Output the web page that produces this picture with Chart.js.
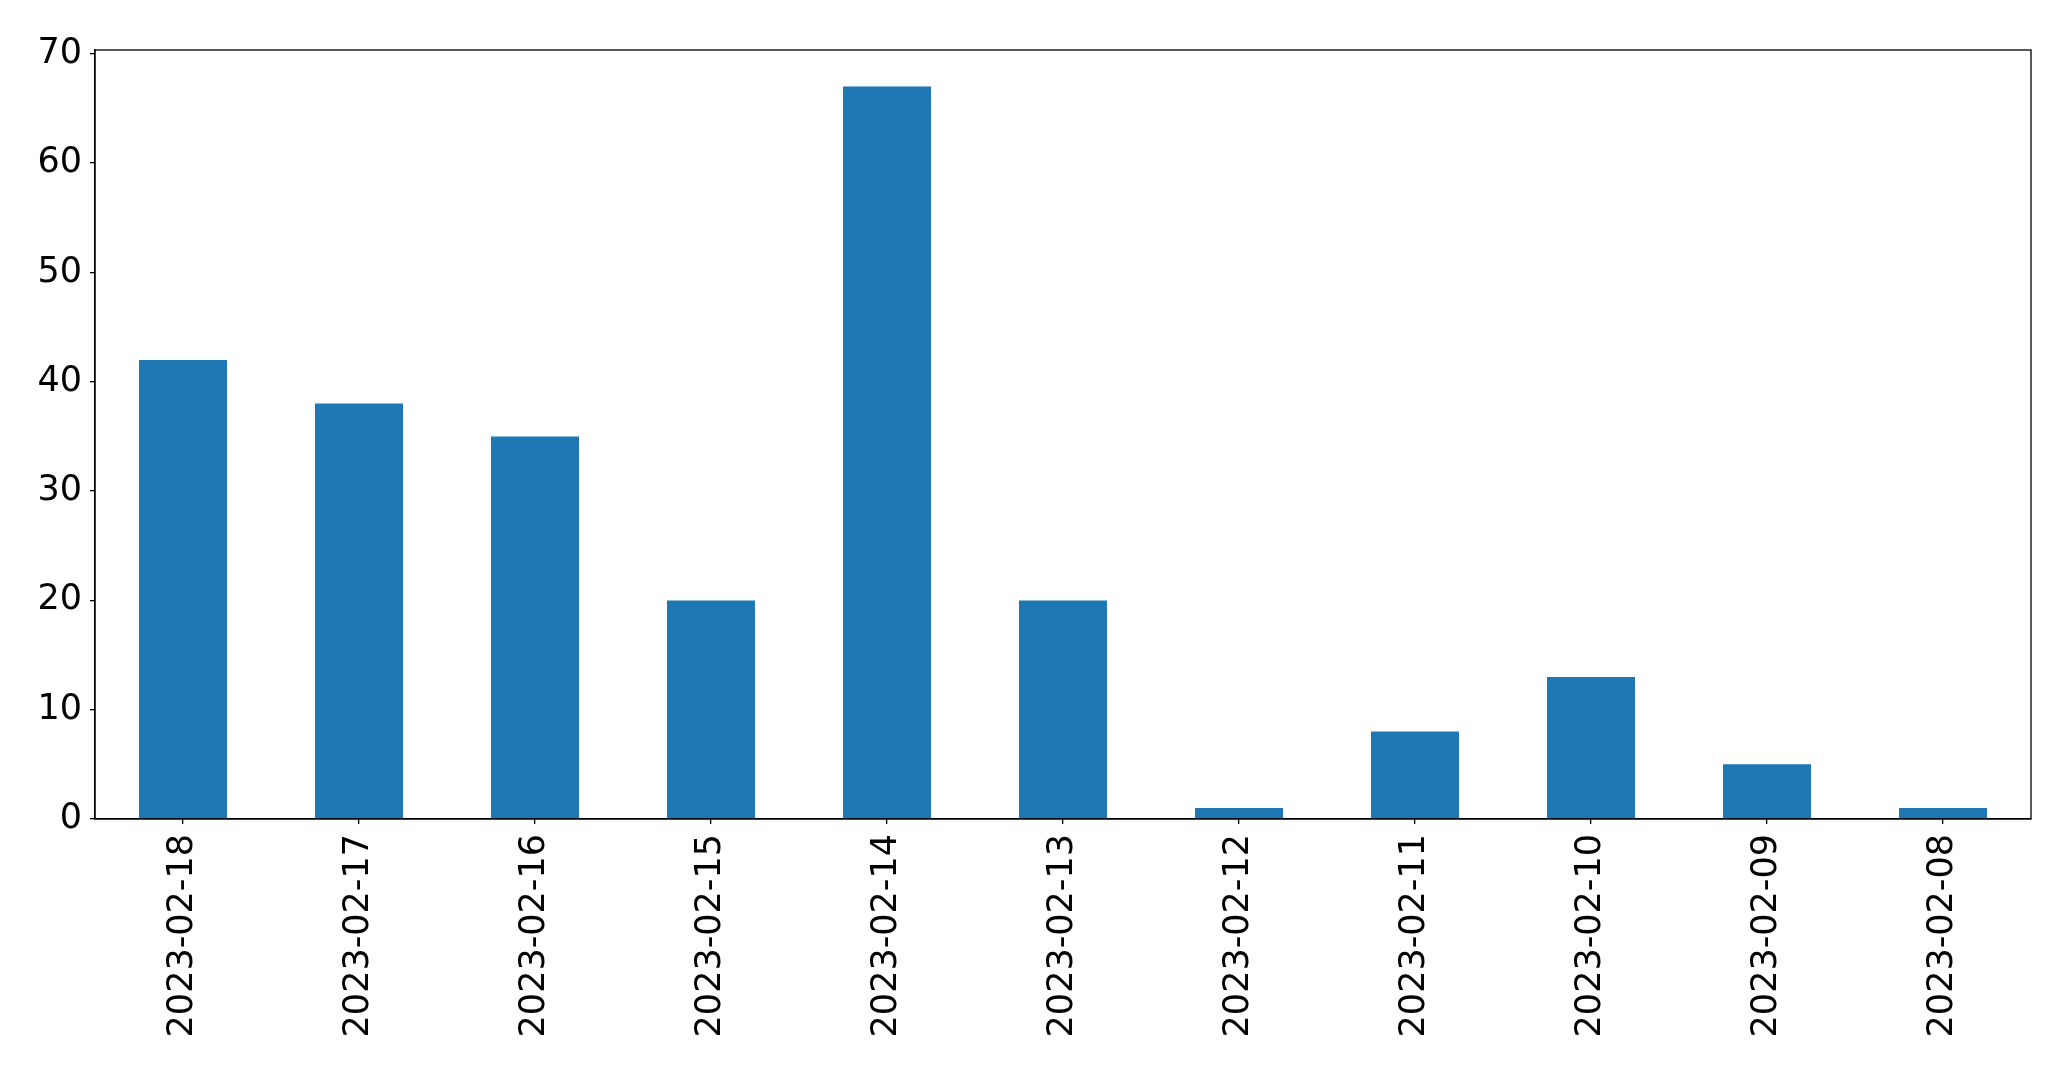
<!DOCTYPE html>
<html>
<head>
<meta charset="utf-8">
<script src="https://cdn.jsdelivr.net/npm/chart.js@4"></script>
<style>
  html, body { margin: 0; padding: 0; background: #fff; }
  #wrap { width: 2071px; height: 1071px; }
</style>
</head>
<body>
<div id="wrap"><canvas id="grafico" width="2071" height="1071"></canvas></div>
<script>
let fechas = ['2023-02-18', '2023-02-17', '2023-02-16', '2023-02-15', '2023-02-14', '2023-02-13',
              '2023-02-12', '2023-02-11', '2023-02-10', '2023-02-09', '2023-02-08'];
let valores = [42, 38, 35, 20, 67, 20, 1, 8, 13, 5, 1];
let ticksY = [0, 10, 20, 30, 40, 50, 60, 70];

// marco completo alrededor del area del grafico (como matplotlib)
let marco = {
    id: 'marco',
    afterDraw: (chart) => {
        let a = chart.chartArea;
        let ctx = chart.ctx;
        ctx.save();
        ctx.strokeStyle = '#000';
        ctx.lineWidth = 1.3;
        ctx.strokeRect(a.left, a.top, a.right - a.left, a.bottom - a.top);
        ctx.restore();
    }
};

let ctx = document.getElementById('grafico').getContext('2d');
let miGrafico = new Chart(ctx, {
    type: 'bar',
    data: {
        labels: fechas,
        datasets: [{
            data: valores,
            backgroundColor: '#1f77b4',
            borderWidth: 0,
            categoryPercentage: 1.0,
            barPercentage: 0.5
        }]
    },
    options: {
        responsive: false,
        animation: false,
        layout: { padding: { left: 0, top: 50, right: 40, bottom: 0 } },
        plugins: { legend: { display: false }, tooltip: { enabled: false } },
        scales: {
            x: {
                offset: true,
                grid: { display: true, offset: false, drawOnChartArea: false, drawTicks: true, tickLength: 5, color: '#000', lineWidth: 1.3 },
                border: { display: true, color: '#000', width: 1.3 },
                ticks: {
                    minRotation: 90, maxRotation: 90, autoSkip: false,
                    color: '#000', padding: 10,
                    font: { family: 'DejaVu Sans', size: 35 }
                },
                afterFit: (scale) => { scale.height = 252; }
            },
            y: {
                min: 0,
                max: 70.35,
                grid: { display: true, drawOnChartArea: false, drawTicks: true, tickLength: 5, color: '#000', lineWidth: 1.3 },
                border: { display: true, color: '#000', width: 1.3 },
                afterBuildTicks: (scale) => { scale.ticks = ticksY.map(v => ({ value: v })); },
                ticks: {
                    color: '#000', padding: 8,
                    font: { family: 'DejaVu Sans', size: 35 }
                },
                afterFit: (scale) => { scale.width = 95; }
            }
        }
    },
    plugins: [marco]
});
</script>
</body>
</html>
